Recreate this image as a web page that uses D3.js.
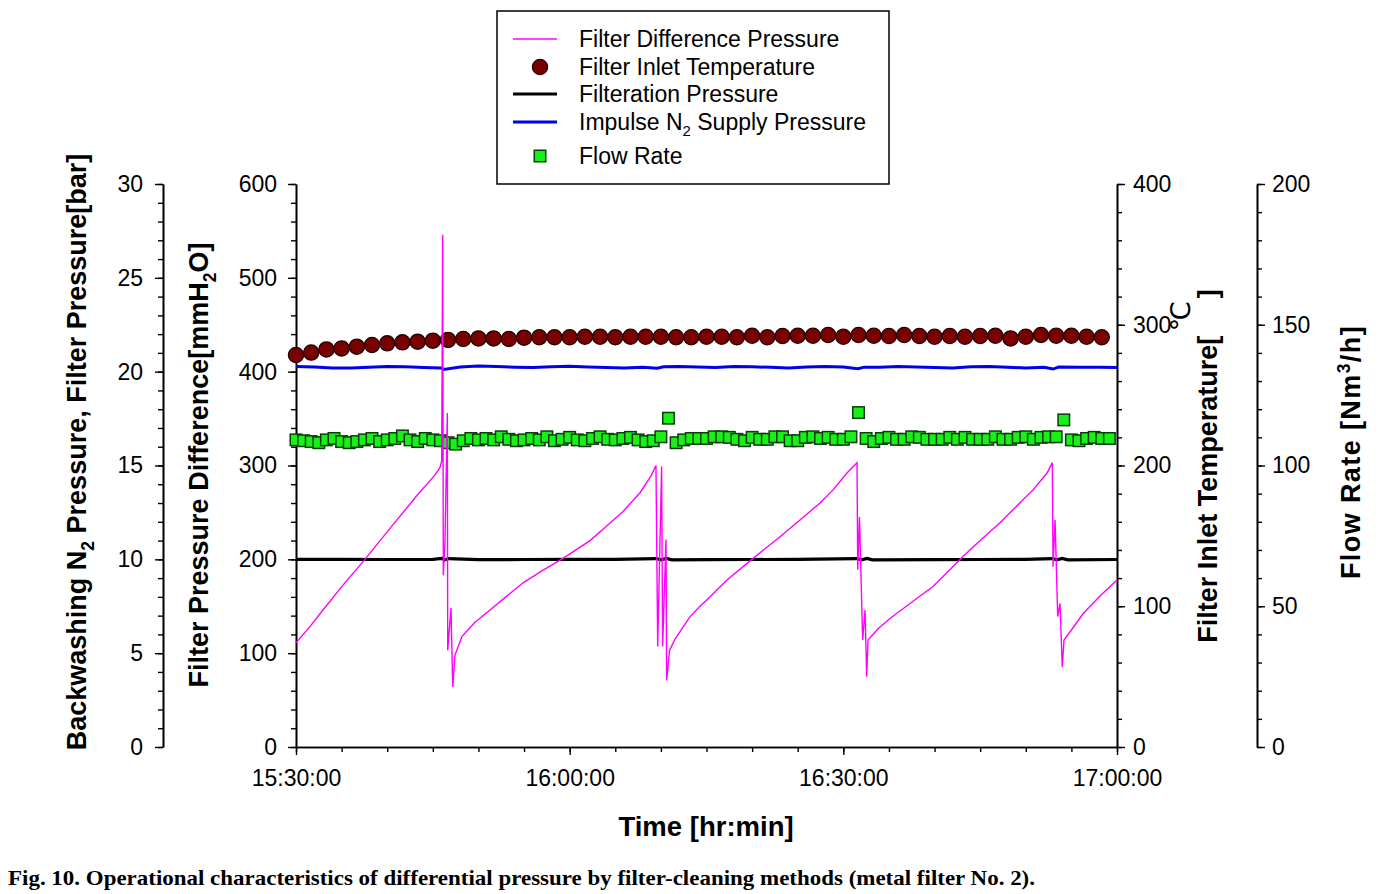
<!DOCTYPE html>
<html><head><meta charset="utf-8">
<script src="https://cdn.jsdelivr.net/npm/d3@7"></script>
<style>body{margin:0;background:#fff}svg{display:block}</style>
</head><body><svg id="c" width="1383" height="894"></svg>
<script>
// ---------------- data ----------------
const timeTickLabels = ["15:30:00","16:00:00","16:30:00","17:00:00"];
// Filter difference pressure [mmH2O] (minutes after 15:30)
const dpMinutes = [0.00,1.50,2.96,5.10,7.56,10.30,13.26,15.24,15.79,15.97,16.08,16.15,16.33,16.59,16.63,16.99,17.18,17.43,18.20,19.62,21.27,23.00,24.89,27.00,29.27,32.23,34.00,35.85,37.71,38.92,39.46,39.65,40.08,40.19,40.56,40.63,40.95,41.55,43.20,44.29,45.05,47.25,50.10,53.06,55.25,57.44,58.87,60.40,61.50,61.58,61.77,62.12,62.38,62.56,62.71,63.80,65.11,66.21,68.00,69.83,73.12,75.00,77.17,80.79,82.33,82.91,82.99,83.21,83.50,83.75,84.00,84.19,85.40,86.27,88.14,90.00];
const dpValues = [111,128,146,172,200,233,268,290,298,305,546,183,218,356,103,148,64,98,118,133,146,160,175,188,201,220,235,251,271,289,300,107,299,107,221,71,103,115,139,150,157,178,201,224,242,260,274,292,303,189,245,114,146,75,114,126,137,145,158,171,203,220,239,274,292,303,192,242,139,153,85,114,130,142,161,178];
// Filter inlet temperature [°C], one reading every 100 s
const tempValues = [278.5,280.2,282.5,283.2,284.4,285.6,286.8,287.5,288.0,288.7,289.2,289.9,290.3,290.3,289.9,290.8,291.1,291.1,291.1,291.5,291.5,291.1,291.5,291.5,291.5,291.1,291.1,
  291.5,291.5,291.1,292.2,291.1,292.0,292.2,292.2,292.7,291.5,292.7,292.2,292.0,292.7,292.0,291.5,292.0,291.5,292.0,292.2,290.3,291.5,292.7,292.2,292.2,291.5,291.1];
// Flow rate [Nm3/h], one reading every 50 s
const flowValues = [109.1,108.8,108.5,108.1,109.1,109.6,108.5,108.1,108.5,109.1,
  109.6,108.5,109.1,109.6,110.5,109.1,108.5,109.6,109.1,108.8,
  108.1,107.6,108.8,109.6,109.1,109.6,109.1,110.2,109.3,108.8,
  109.1,109.6,109.1,110.2,108.8,109.3,110.0,109.1,108.8,109.6,
  110.2,109.3,109.1,109.6,110.0,109.1,108.5,108.8,110.2,116.8,
  108.1,109.1,109.6,109.6,
  109.6,110.2,110.2,110.0,109.3,108.8,110.0,109.3,109.3,110.2,
  110.2,108.8,108.8,110.0,110.2,109.6,110.0,109.3,109.3,110.2,
  118.8,109.6,108.5,109.6,110.0,109.3,109.3,110.2,110.0,109.3,
  109.3,109.3,110.0,109.3,110.0,109.3,109.3,109.3,110.2,109.3,
  109.3,110.0,110.2,109.3,110.0,110.2,110.2,116.2,109.1,108.8,
  109.6,110.0,109.6,109.6];
// Impulse N2 supply pressure [bar]
const n2Minutes = [0,2,4,6,8,10,12,14,15.9,16.2,18,20,22,24,26,28,30,32,34,36,38,39.6,40.3,42,44,46,48,50,52,54,56,58,60,61.6,62.3,64,66,68,70,72,74,76,78,80,82,83.0,83.6,86,88,90];
const n2Values = [20.28,20.25,20.20,20.20,20.24,20.28,20.26,20.22,20.20,20.12,20.25,20.30,20.27,20.24,20.22,20.26,20.29,20.25,20.22,20.20,20.23,20.18,20.26,20.28,20.25,20.22,20.28,20.26,20.23,20.20,20.25,20.28,20.25,20.16,20.24,20.23,20.28,20.25,20.22,20.20,20.26,20.28,20.23,20.20,20.24,20.14,20.25,20.23,20.24,20.22];
// Filtration pressure [bar]
const filtMinutes = [0,5,10,15,16.0,16.3,16.7,20,25,30,35,39.5,40.0,40.6,41.2,45,50,55,61.5,62.0,62.6,63.2,70,75,80,82.9,83.4,84.0,84.6,90];
const filtValues = [10.00,10.00,9.99,10.00,10.05,9.97,10.04,9.98,9.99,10.00,10.00,10.04,9.97,10.05,9.97,9.98,9.99,10.00,10.04,9.97,10.05,9.97,9.98,9.99,10.00,10.04,9.97,10.05,9.97,9.99];
const legendLabels = ["Filter Difference Pressure","Filter Inlet Temperature","Filteration Pressure","Impulse N|2| Supply Pressure","Flow Rate"];
const caption = "Fig. 10. Operational characteristics of differential pressure by filter-cleaning methods (metal filter No. 2).";

// ---------------- layout ----------------
const svg = d3.select("#c");
const L = 296, R = 1117, T = 184, B = 747;
const FONT = "'Liberation Sans', Arial, sans-serif";
const t0 = new Date(2000,0,1,15,30,0);
const toDate = m => new Date(t0.getTime() + m*60000);

const x = d3.scaleTime().domain([t0, toDate(90)]).range([L, R]);
const yDP = d3.scaleLinear().domain([0,600]).range([B,T]);
const yBar = d3.scaleLinear().domain([0,30]).range([B,T]);
const yTemp = d3.scaleLinear().domain([0,400]).range([B,T]);
const yFlow = d3.scaleLinear().domain([0,200]).range([B,T]);

function styleAxis(g){
  g.selectAll("path.domain").attr("stroke","#000").attr("stroke-width",1.6);
  g.selectAll(".tick line").attr("stroke","#000").attr("stroke-width",1.4);
  g.selectAll("text").attr("font-family",FONT).attr("font-size",23).attr("fill","#000");
}
function addAxis(axisFn, scale, major, minor, tx, ty, pad){
  const gm = svg.append("g").attr("transform",`translate(${tx},${ty})`)
    .call(axisFn(scale).tickValues(minor).tickSize(5).tickSizeOuter(0).tickFormat(""));
  styleAxis(gm);
  gm.selectAll("text").remove();
  const g = svg.append("g").attr("transform",`translate(${tx},${ty})`)
    .call(axisFn(scale).tickValues(major).tickSize(8).tickSizeOuter(0).tickPadding(pad));
  styleAxis(g);
  return g;
}
addAxis(d3.axisLeft, yBar, d3.range(0,31,5), d3.range(0,31,1), 163, 0, 12);
addAxis(d3.axisLeft, yDP, d3.range(0,601,100), d3.range(0,601,20), L, 0, 11);
addAxis(d3.axisRight, yTemp, d3.range(0,401,100), d3.range(0,401,20), R, 0, 8);
addAxis(d3.axisRight, yFlow, d3.range(0,201,50), d3.range(0,201,10), 1257, 0, 7);
const majorT = timeTickLabels.map((s,i)=>toDate(i*30));
const minorT = d3.range(0,91,5).map(toDate);
const gxm = svg.append("g").attr("transform",`translate(0,${B})`)
  .call(d3.axisBottom(x).tickValues(minorT).tickSize(5).tickSizeOuter(0).tickFormat(""));
styleAxis(gxm);
gxm.selectAll("text").remove();
const gx = svg.append("g").attr("transform",`translate(0,${B})`)
  .call(d3.axisBottom(x).tickValues(majorT).tickSize(8).tickSizeOuter(0).tickPadding(15)
    .tickFormat((d,i)=>timeTickLabels[i]));
styleAxis(gx);

// ---------------- series ----------------
const filtData = filtMinutes.map((m,i)=>({t:toDate(m),v:filtValues[i]}));
svg.append("path").datum(filtData)
  .attr("d", d3.line().x(d=>x(d.t)).y(d=>yBar(d.v)))
  .attr("fill","none").attr("stroke","#000").attr("stroke-width",3.2);

const n2Data = n2Minutes.map((m,i)=>({t:toDate(m),v:n2Values[i]}));
svg.append("path").datum(n2Data)
  .attr("d", d3.line().x(d=>x(d.t)).y(d=>yBar(d.v)))
  .attr("fill","none").attr("stroke","#0000ee").attr("stroke-width",3);

const flowData = flowValues.map((v,i)=>({t:toDate(i*50/60),v}));
const SQ = 11.5;
svg.append("g").selectAll("rect").data(flowData).join("rect")
  .attr("x",d=>x(d.t)-SQ/2).attr("y",d=>yFlow(d.v)-SQ/2)
  .attr("width",SQ).attr("height",SQ)
  .attr("fill","#18f018").attr("stroke","#0b3d0b").attr("stroke-width",1.5);

const tempData = tempValues.map((v,i)=>({t:toDate(i*100/60),v}));
svg.append("g").selectAll("circle").data(tempData).join("circle")
  .attr("cx",d=>x(d.t)).attr("cy",d=>yTemp(d.v)).attr("r",7.6)
  .attr("fill","#7a0000").attr("stroke","#200000").attr("stroke-width",1.3);

const dpData = dpMinutes.map((m,i)=>({t:toDate(m),v:dpValues[i]}));
svg.append("path").datum(dpData)
  .attr("d", d3.line().x(d=>x(d.t)).y(d=>yDP(d.v)))
  .attr("fill","none").attr("stroke","#ff00ff").attr("stroke-width",1.4);

// ---------------- titles ----------------
function richText(txt, str, size){
  // '|x|' marks subscript, '^x^' marks superscript
  const parts = str.split(/(\|[^|]*\||\^[^^]*\^)/).filter(s=>s.length);
  let pending = 0;
  parts.forEach(p=>{
    if(p.startsWith("|")){
      txt.append("tspan").attr("font-size",size*0.65).attr("dy",pending+size*0.28).text(p.slice(1,-1));
      pending = -size*0.28;
    } else if(p.startsWith("^")){
      txt.append("tspan").attr("font-size",size*0.65).attr("dy",pending-size*0.38).text(p.slice(1,-1));
      pending = size*0.38;
    } else {
      const s = txt.append("tspan").text(p);
      if(pending) s.attr("dy",pending);
      pending = 0;
    }
  });
}
function vTitle(cx, cy, str, size, ls){
  const t = svg.append("text").attr("transform",`translate(${cx},${cy}) rotate(-90)`)
    .attr("text-anchor","middle").attr("dy","0.35em")
    .attr("font-family",FONT).attr("font-weight","bold").attr("font-size",size).attr("fill","#000")
    .style("white-space","pre");
  if(ls) t.attr("letter-spacing",ls);
  richText(t, str, size);
  return t;
}
vTitle(77, 452, "Backwashing N|2| Pressure, Filter Pressure[bar]", 27);
vTitle(199, 465, "Filter Pressure Difference[mmH|2|O]", 27);
vTitle(1208, 466, "Filter Inlet Temperature[\u00A0\u00A0\u00A0\u00A0\u00A0]", 27);
vTitle(1351, 452, "Flow Rate [Nm^3^/h]", 27, 1.4);
svg.append("text").attr("transform","translate(1181,316) rotate(-90)")
  .attr("text-anchor","middle").attr("dy","0.35em")
  .attr("font-family","'DejaVu Sans', sans-serif").attr("font-size",27).text("\u2103");

svg.append("text").attr("x",706).attr("y",826).attr("dy","0.35em").attr("text-anchor","middle")
  .attr("font-family",FONT).attr("font-weight","bold").attr("font-size",27.5).text("Time [hr:min]");

svg.append("text").attr("x",8).attr("y",885)
  .attr("font-family","'Liberation Serif', 'Times New Roman', serif").attr("font-weight","bold")
  .attr("font-size",21).attr("textLength",1027).attr("lengthAdjust","spacingAndGlyphs").text(caption);

// ---------------- legend ----------------
const lg = svg.append("g");
lg.append("rect").attr("x",497).attr("y",11).attr("width",392).attr("height",173)
  .attr("fill","#fff").attr("stroke","#000").attr("stroke-width",1.5);
const rowsY = [39,67,94,122,156];
lg.append("line").attr("x1",513).attr("x2",557).attr("y1",rowsY[0]).attr("y2",rowsY[0])
  .attr("stroke","#ff00ff").attr("stroke-width",1.4);
lg.append("circle").attr("cx",540).attr("cy",rowsY[1]).attr("r",7.6)
  .attr("fill","#7a0000").attr("stroke","#200000").attr("stroke-width",1.3);
lg.append("line").attr("x1",513).attr("x2",557).attr("y1",rowsY[2]).attr("y2",rowsY[2])
  .attr("stroke","#000").attr("stroke-width",3.2);
lg.append("line").attr("x1",513).attr("x2",557).attr("y1",rowsY[3]).attr("y2",rowsY[3])
  .attr("stroke","#0000ee").attr("stroke-width",3);
lg.append("rect").attr("x",540-SQ/2).attr("y",rowsY[4]-SQ/2).attr("width",SQ).attr("height",SQ)
  .attr("fill","#18f018").attr("stroke","#0b3d0b").attr("stroke-width",1.5);
legendLabels.forEach((s,i)=>{
  const t = lg.append("text").attr("x",579).attr("y",rowsY[i]).attr("dy","0.35em")
    .attr("font-family",FONT).attr("font-size",23).attr("fill","#000");
  richText(t, s, 23);
});
</script>
</body></html>
